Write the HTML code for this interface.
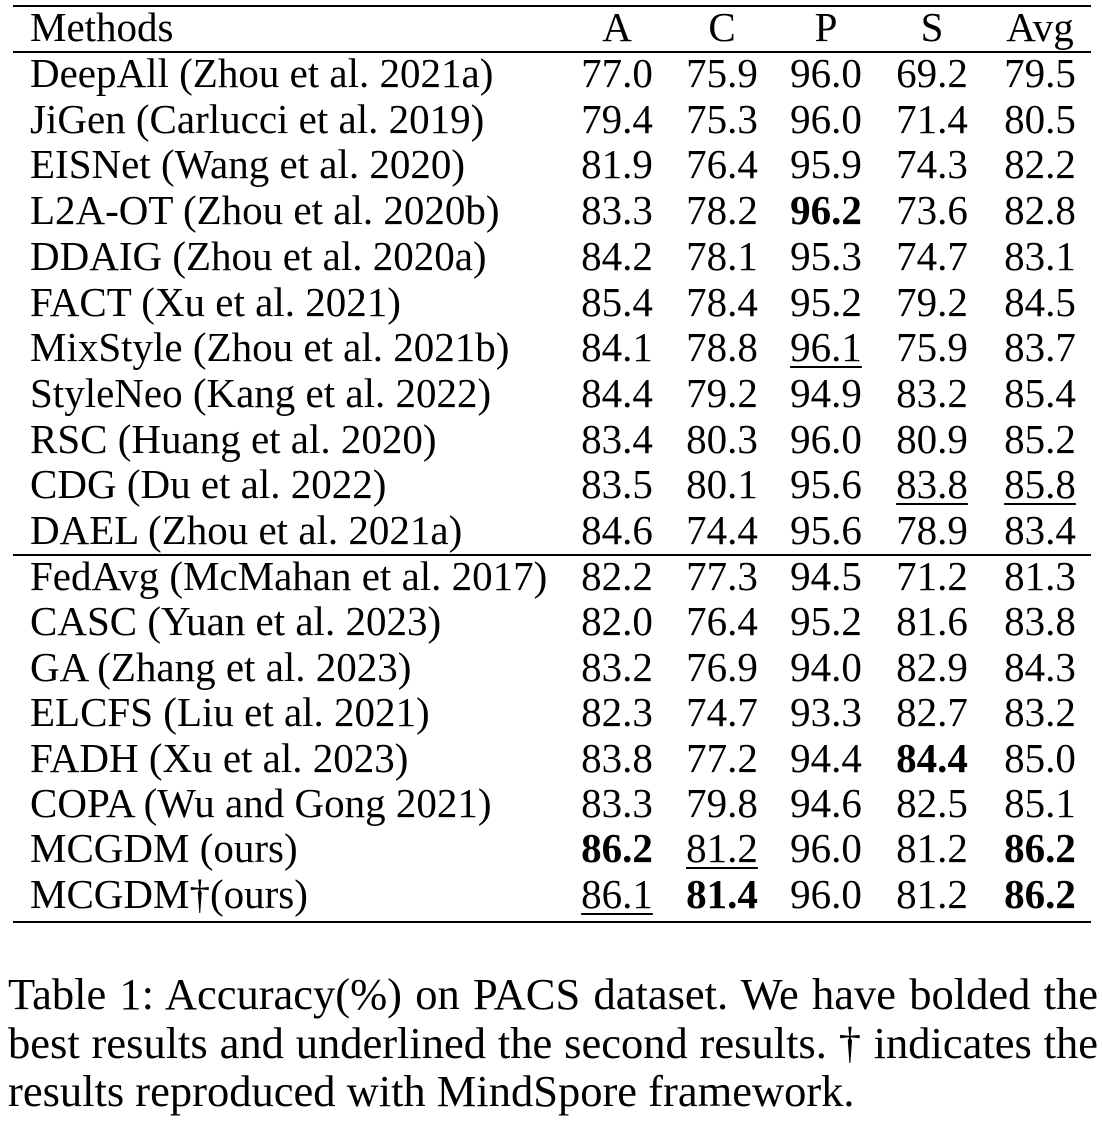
<!DOCTYPE html>
<html><head><meta charset="utf-8"><style>
body{margin:0;width:1102px;height:1122px;background:#fff;position:relative;font-family:"Liberation Serif",serif;color:#000;overflow:hidden}
.r{position:absolute;left:13px;width:1078px;height:2px;background:#000}
.c{position:absolute;font-size:41px;line-height:46px;height:46px;white-space:nowrap}
.n{text-align:center;width:120px}
.b{font-weight:bold}
.u{text-decoration:underline;text-underline-offset:5px;text-decoration-thickness:2px}
.cap{position:absolute;left:8px;width:1090px;font-size:44.5px;line-height:48.5px;top:970px}
.cap div{text-align:justify;text-align-last:justify;white-space:nowrap}
.cap div.l{text-align-last:left}
</style></head><body>
<div class="r" style="top:5px"></div>
<div class="r" style="top:51px"></div>
<div class="r" style="top:554px"></div>
<div class="r" style="top:921px"></div>
<div class="cap"><div>Table 1: Accuracy(%) on PACS dataset. We have bolded the</div><div>best results and underlined the second results. † indicates the</div><div class="l">results reproduced with MindSpore framework.</div></div>
<script>
const headers=["Methods","A","C","P","S","Avg"];
const methods=["DeepAll (Zhou et al. 2021a)","JiGen (Carlucci et al. 2019)","EISNet (Wang et al. 2020)","L2A-OT (Zhou et al. 2020b)","DDAIG (Zhou et al. 2020a)","FACT (Xu et al. 2021)","MixStyle (Zhou et al. 2021b)","StyleNeo (Kang et al. 2022)","RSC (Huang et al. 2020)","CDG (Du et al. 2022)","DAEL (Zhou et al. 2021a)","FedAvg (McMahan et al. 2017)","CASC (Yuan et al. 2023)","GA (Zhang et al. 2023)","ELCFS (Liu et al. 2021)","FADH (Xu et al. 2023)","COPA (Wu and Gong 2021)","MCGDM (ours)","MCGDM†(ours)"];
const values=[["77.0","75.9","96.0","69.2","79.5"],["79.4","75.3","96.0","71.4","80.5"],["81.9","76.4","95.9","74.3","82.2"],["83.3","78.2","*96.2","73.6","82.8"],["84.2","78.1","95.3","74.7","83.1"],["85.4","78.4","95.2","79.2","84.5"],["84.1","78.8","_96.1","75.9","83.7"],["84.4","79.2","94.9","83.2","85.4"],["83.4","80.3","96.0","80.9","85.2"],["83.5","80.1","95.6","_83.8","_85.8"],["84.6","74.4","95.6","78.9","83.4"],["82.2","77.3","94.5","71.2","81.3"],["82.0","76.4","95.2","81.6","83.8"],["83.2","76.9","94.0","82.9","84.3"],["82.3","74.7","93.3","82.7","83.2"],["83.8","77.2","94.4","*84.4","85.0"],["83.3","79.8","94.6","82.5","85.1"],["*86.2","_81.2","96.0","81.2","*86.2"],["_86.1","*81.4","96.0","81.2","*86.2"]];
const colX=[617,722,826,932,1040];
function add(txt,cls,left,cy,name){const d=document.createElement('div');d.className='c '+cls;d.textContent=txt;d.style.left=left+'px';d.style.top=(cy-23)+'px';


document.body.appendChild(d);}
add(headers[0],'',30,27,'header-methods');
for(let j=1;j<6;j++)add(headers[j],'n',colX[j-1]-60,27,'header-'+headers[j].toLowerCase());
methods.forEach((m,i)=>{const cy=i<11?73+i*45.7:576+(i-11)*45.4;
add(m,'',30,cy,'method-name');
values[i].forEach((v,j)=>{let cls='n';if(v[0]=='*'){cls+=' b';v=v.slice(1);}else if(v[0]=='_'){cls+=' u';v=v.slice(1);}
add(v,cls,colX[j]-60,cy,'cell-value');});});
</script>
</body></html>
